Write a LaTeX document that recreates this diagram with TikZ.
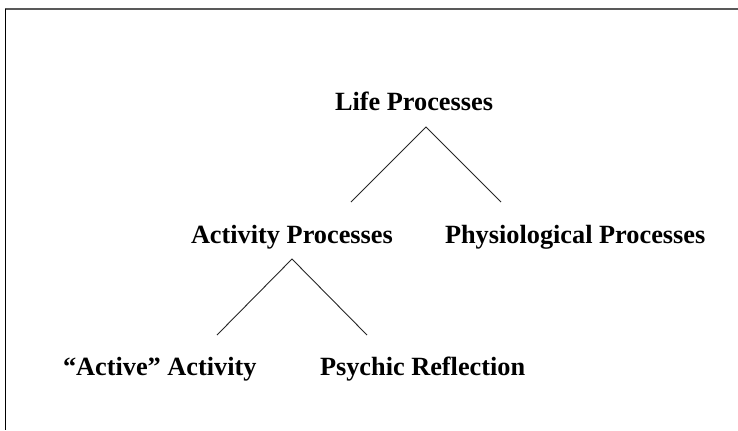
\documentclass[tikz,border=0pt]{standalone}
\usepackage{fontspec}
\setmainfont{Liberation Serif}
\begin{document}
\begin{tikzpicture}[x=1bp,y=-1bp,
  label/.style={anchor=base west,inner sep=0pt,outer sep=0pt,font=\fontsize{26.3bp}{31bp}\selectfont\bfseries},
  branch/.style={draw=black!85,line width=0.9bp}]
\useasboundingbox (0,0) rectangle (738,430);
% frame
\draw[draw=black!65,line width=2.2bp] (5,8.7) -- (738,8.7);
\draw[draw=black,line width=1.3bp] (5.8,8.7) -- (5.8,430);
% labels
\node[label] (life) at (335,110) {Life Processes};
\node[label] (act) at (191,243) {Activity Processes};
\node[label] (phys) at (445,243) {Physiological Processes};
\node[label] (active) at (63,375) {“Active” Activity};
\node[label] (psych) at (320,375) {Psychic Reflection};
% connector end points
\coordinate (lifeapex) at (426,127);
\coordinate (actapex) at (292,259);
\coordinate (acttop) at (351,202);
\coordinate (phystop) at (501,202);
\coordinate (activetop) at (217,335);
\coordinate (psychtop) at (367,335);
% connectors
\draw[branch] (acttop) -- (lifeapex) -- (phystop);
\draw[branch] (activetop) -- (actapex) -- (psychtop);
\end{tikzpicture}
\end{document}
